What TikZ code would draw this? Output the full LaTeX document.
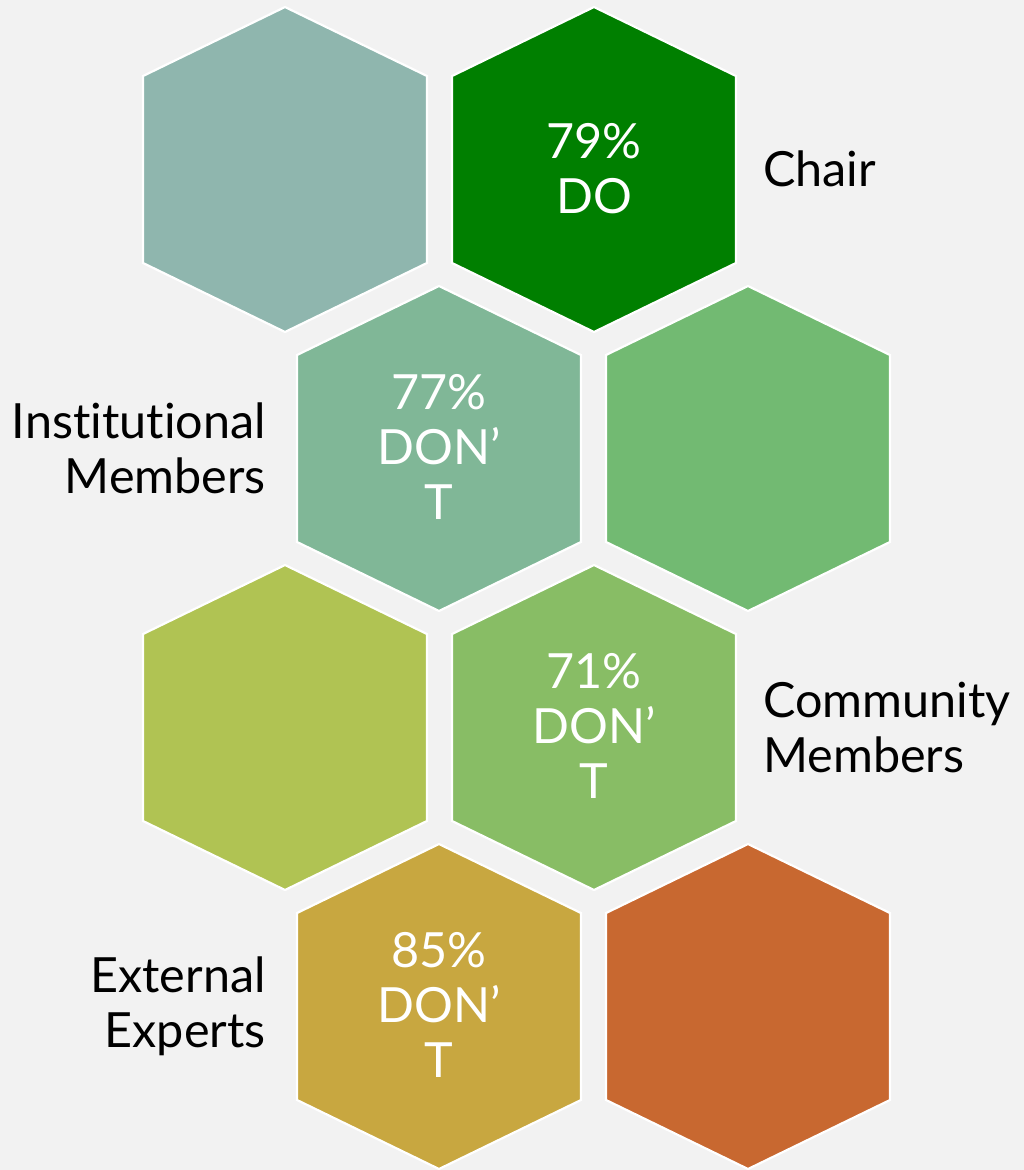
\documentclass[tikz,border=0pt]{standalone}
\usepackage{fontspec}
\setmainfont[Ligatures=NoCommon]{Lato}
\definecolor{bg}{HTML}{F2F2F2}
\definecolor{hA}{HTML}{8FB6AE}
\definecolor{hB}{HTML}{007F00}
\definecolor{hC}{HTML}{80B797}
\definecolor{hD}{HTML}{72BA72}
\definecolor{hE}{HTML}{B0C353}
\definecolor{hF}{HTML}{88BD65}
\definecolor{hG}{HTML}{C8A740}
\definecolor{hH}{HTML}{C86830}
\tikzset{
  hexcell/.style={draw=white, line width=2.2pt, line join=miter},
  bigtext/.style={font=\fontsize{48.5}{55}\selectfont, inner sep=0pt, align=center},
  intext/.style={bigtext, text=white},
  sidelabel/.style={bigtext, text=black},
}
\begin{document}
\begin{tikzpicture}[x=1pt,y=-1pt]
\path[fill=bg] (0,0) rectangle (1024,1170);
\useasboundingbox (0,0) rectangle (1024,1170);
\foreach \cx/\cy/\col in {285/169.5/hA, 594/169.5/hB, 439/448.5/hC, 748/448.5/hD, 285/727.5/hE, 594/727.5/hF, 439/1006.5/hG, 748/1006.5/hH}{
  \draw[hexcell, fill=\col] (\cx,\cy-162.5) -- (\cx+142,\cy-93.5) -- (\cx+142,\cy+93.5) -- (\cx,\cy+162.5) -- (\cx-142,\cy+93.5) -- (\cx-142,\cy-93.5) -- cycle;
}
\node[intext] (t1) at (594,169) {79\%\\DO};
\node[intext] (t2) at (439,447) {77\%\\DON’\\T};
\node[intext] (t3) at (594,726) {71\%\\DON’\\T};
\node[intext] (t4) at (439,1005) {85\%\\DON’\\T};
\node[sidelabel, anchor=west] (l1) at (763,169) {Chair};
\node[sidelabel, anchor=east, align=right] (l2) at (266,448) {Institutional\\Members};
\node[sidelabel, anchor=west, align=left] (l3) at (763,727) {Community\\Members};
\node[sidelabel, anchor=east, align=right] (l4) at (266,1006) {External\\Experts};
\end{tikzpicture}
\end{document}
